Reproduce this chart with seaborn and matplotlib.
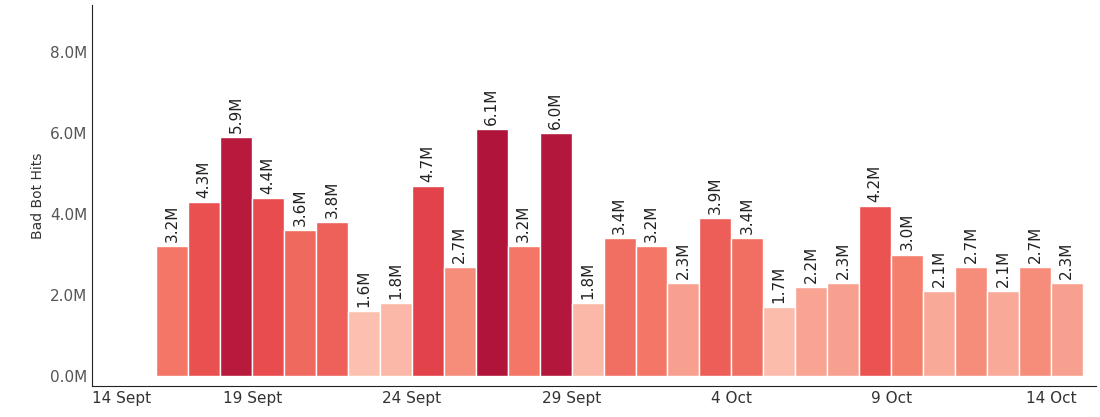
import pandas as pd
import numpy as np
import matplotlib
matplotlib.use("Agg")
import matplotlib.pyplot as plt
import seaborn as sns
from matplotlib.colors import LinearSegmentedColormap

# daily bad bot hits (millions), 16 Sept .. 14 Oct
dates = pd.date_range("2023-09-16", "2023-10-14", freq="D")
hits = [3.2, 4.3, 5.9, 4.4, 3.6, 3.8, 1.6, 1.8, 4.7, 2.7, 6.1, 3.2, 6.0, 1.8,
        3.4, 3.2, 2.3, 3.9, 3.4, 1.7, 2.2, 2.3, 4.2, 3.0, 2.1, 2.7, 2.1, 2.7, 2.3]
tick_dates = ["2023-09-14", "2023-09-19", "2023-09-24", "2023-09-29",
              "2023-10-04", "2023-10-09", "2023-10-14"]
tick_labels = ["14 Sept", "19 Sept", "24 Sept", "29 Sept", "4 Oct", "9 Oct", "14 Oct"]

start = pd.Timestamp("2023-09-14")
df = pd.DataFrame({"day": (dates - start).days + 0.5, "hits": np.array(hits) * 1e6})

cmap = LinearSegmentedColormap.from_list("bot", ["#fcc0b0", "#f47a68", "#e6454a", "#b0143a"])
norm = plt.Normalize(1.6, 6.1)
colors = [cmap(norm(v)) for v in hits]

sns.set_style("white")
fig = plt.figure(figsize=(11, 4.17), dpi=100)
ax = fig.add_axes([0.084, 0.074, 0.912, 0.914])
sns.barplot(data=df, x="day", y="hits", native_scale=True, width=1.0,
            hue="day", palette=colors, legend=False, edgecolor="white",
            linewidth=1, saturation=1, ax=ax)

for x, v in zip(df["day"], hits):
    ax.text(x, v * 1e6 + 0.1e6, f"{v:.1f}M", rotation=90, ha="center",
            va="bottom", fontsize=11, color="#222222")

ax.set_xlim(0, 31.4)
ax.set_ylim(-0.25e6, 9.16e6)
ax.set_yticks([0, 2e6, 4e6, 6e6, 8e6])
ax.set_yticklabels(["0.0M", "2.0M", "4.0M", "6.0M", "8.0M"], color="#555555", fontsize=11)
ax.set_xticks([(pd.Timestamp(d) - start).days for d in tick_dates])
xl = ax.set_xticklabels(tick_labels, color="#333333", fontsize=11)
xl[0].set_ha("left")
ax.tick_params(axis="both", length=0)
ax.set_xlabel("")
ax.set_ylabel("Bad Bot Hits", color="#333333", fontsize=10)
for s in ["top", "right"]:
    ax.spines[s].set_visible(False)
for s in ["left", "bottom"]:
    ax.spines[s].set_color("#222222")

fig.savefig("out.png", dpi=100)
